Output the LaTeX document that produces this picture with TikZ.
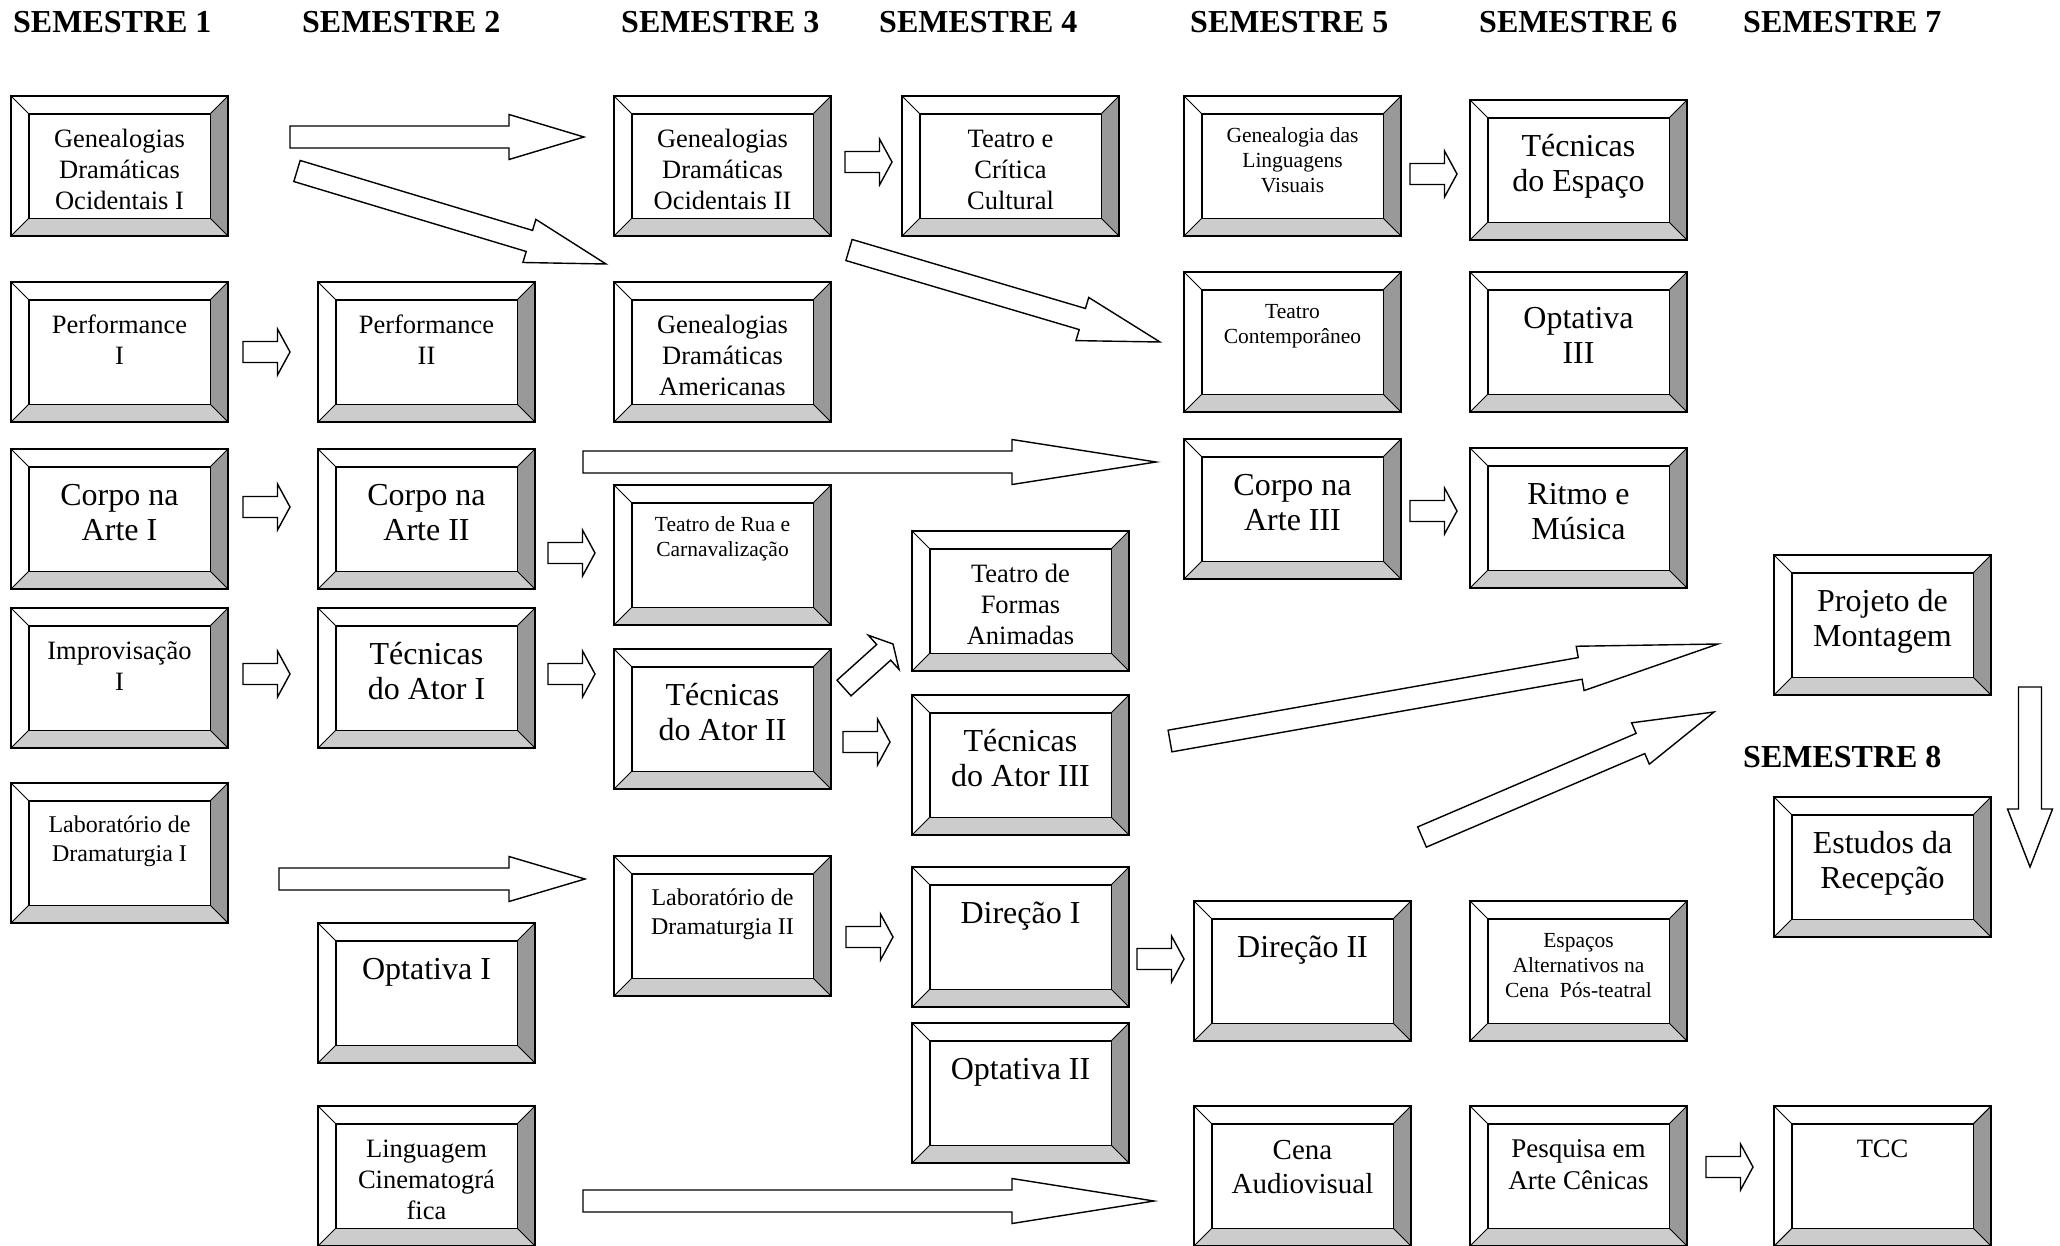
\documentclass[tikz,border=0pt]{standalone}
\usepackage{fontspec}
\setmainfont{Liberation Serif}
\usetikzlibrary{calc,positioning}
\definecolor{BevelDark}{HTML}{999999}
\definecolor{BevelLight}{HTML}{CCCCCC}
\newlength\bev
\setlength\bev{17.7pt}

\tikzset{
  bevel/.style={draw, fill=white, line width=2.2pt, anchor=north west,
    minimum width=217pt, minimum height=140pt, inner sep=0pt, outer sep=0pt,
    path picture={
      \coordinate (pNW) at (path picture bounding box.north west);
      \coordinate (pNE) at (path picture bounding box.north east);
      \coordinate (pSW) at (path picture bounding box.south west);
      \coordinate (pSE) at (path picture bounding box.south east);
      \fill[BevelDark] (pNE) -- (pSE) -- ([shift={(-\bev,\bev)}]pSE)
        -- ([shift={(-\bev,-\bev)}]pNE) -- cycle;
      \fill[BevelLight] (pSW) -- (pSE) -- ([shift={(-\bev,\bev)}]pSE)
        -- ([shift={(\bev,\bev)}]pSW) -- cycle;
      \draw[line width=1pt] (pNW) -- ++(\bev,-\bev) (pNE) -- ++(-\bev,-\bev)
        (pSE) -- ++(-\bev,\bev) (pSW) -- ++(\bev,\bev);
      \draw[line width=1.6pt] ([shift={(\bev,-\bev)}]pNW)
        rectangle ([shift={(-\bev,\bev)}]pSE);
    }},
  coursetext/.style={align=center, inner sep=0pt},
  fS/.style={font=\fontsize{21.5}{25}\selectfont},
  fL/.style={font=\fontsize{24}{29}\selectfont},
  fM/.style={font=\fontsize{26.5}{31}\selectfont},
  fQ/.style={font=\fontsize{27}{31.5}\selectfont},
  fC/.style={font=\fontsize{29}{34}\selectfont},
  fB/.style={font=\fontsize{32}{35.5}\selectfont},
  sem/.style={anchor=west, inner sep=0pt, font=\bfseries\fontsize{32}{36}\selectfont},
  fat/.style={draw, fill=white, line width=1.4pt, line join=miter},
}

% box with bevel frame, text hung from the top
\newcommand\course[5]{%
  \node[bevel] (#1) at (#2,#3) {};
  \node[coursetext,#4,below=27.5pt of #1.north] (#1-t) {\rule{0pt}{.89em}#5};}

% hollow block arrow: tail, tip, half shaft, half head, head length
\newcommand\fatarrow[5]{%
  \path ($(#2)!#5!(#1)$) coordinate (hb);
  \draw[fat] ($(#1)!#3!90:(#2)$) -- ($(hb)!#3!90:(#2)$) -- ($(hb)!#4!90:(#2)$)
    -- (#2) -- ($(hb)!#4!-90:(#2)$) -- ($(hb)!#3!-90:(#2)$)
    -- ($(#1)!#3!-90:(#2)$) -- cycle;}

\begin{document}
\begin{tikzpicture}[x=1pt,y=-1pt]
\clip (0,0) rectangle (2060,1245);

% Semester headings.
\node[sem] (s1) at (13,22.5) {SEMESTRE 1};
\node[sem] (s2) at (302,22.5) {SEMESTRE 2};
\node[sem] (s3) at (621,22.5) {SEMESTRE 3};
\node[sem] (s4) at (879,22.5) {SEMESTRE 4};
\node[sem] (s5) at (1190,22.5) {SEMESTRE 5};
\node[sem] (s6) at (1479,22.5) {SEMESTRE 6};
\node[sem] (s7) at (1743,22.5) {SEMESTRE 7};
\node[sem] (s8) at (1743,757) {SEMESTRE 8};

% Semester 1 and 2.
\course{gdoI}{11}{96}{fM}{Genealogias\\Dramáticas\\Ocidentais I}
\course{perfI}{11}{282}{fM}{Performance\\I}
\course{corpoI}{11}{449}{fB}{Corpo na\\Arte I}
\course{improv}{11}{608}{fM}{Improvisação\\I}
\course{labI}{11}{783}{fL}{Laboratório de\\Dramaturgia I}
\course{perfII}{318}{282}{fM}{Performance\\II}
\course{corpoII}{318}{449}{fB}{Corpo na\\Arte II}
\course{atorI}{318}{608}{fB}{Técnicas\\do Ator I}
\course{optI}{318}{923}{fB}{Optativa I}
\course{cine}{318}{1106}{fM}{Linguagem\\Cinematográ\\fica}

% Semester 3 and 4.
\course{gdoII}{614}{96}{fM}{Genealogias\\Dramáticas\\Ocidentais II}
\course{gda}{614}{282}{fM}{Genealogias\\Dramáticas\\Americanas}
\course{rua}{614}{485}{fS}{Teatro de Rua e\\Carnavalização}
\course{atorII}{614}{649}{fB}{Técnicas\\do Ator II}
\course{labII}{614}{856}{fL}{Laboratório de\\Dramaturgia II}
\course{critica}{902}{96}{fM}{Teatro e\\Crítica\\Cultural}
\course{formas}{912}{531}{fM}{Teatro de\\Formas\\Animadas}
\course{atorIII}{912}{695}{fB}{Técnicas\\do Ator III}
\course{dirI}{912}{867}{fB}{Direção I}
\course{optII}{912}{1023}{fB}{Optativa II}

% Semester 5 and 6.
\course{visuais}{1184}{96}{fS}{Genealogia das\\Linguagens\\Visuais}
\course{contemp}{1184}{272}{fS}{Teatro\\Contemporâneo}
\course{corpoIII}{1184}{439}{fB}{Corpo na\\Arte III}
\course{dirII}{1194}{901}{fB}{Direção II}
\course{cena}{1194}{1106}{fC}{Cena\\Audiovisual}
\course{espaco}{1470}{100}{fB}{Técnicas\\do Espaço}
\course{optIII}{1470}{272}{fB}{Optativa\\III}
\course{ritmo}{1470}{448}{fB}{Ritmo e\\Música}
\course{alt}{1470}{901}{fS}{Espaços\\Alternativos na\\Cena\ \ Pós-teatral}
\course{pesq}{1470}{1106}{fQ}{Pesquisa em\\Arte Cênicas}

% Semester 7 and 8.
\course{montagem}{1774}{555}{fB}{Projeto de\\Montagem}
\course{recepcao}{1774}{797}{fB}{Estudos da\\Recepção}
\course{tcc}{1774}{1106}{fM}{TCC}

% Short arrows between neighbours.
\foreach \n/\x/\y in {a/845/162, b/243/352, c/243/507, d/243/674, e/548/553,
    f/548/674, g/843/742, i/1410/174, j/1410/511, k/846/937, l/1137/959, m/1706/1167} {
  \coordinate (sh\n-s) at (\x,\y);
  \coordinate (sh\n-e) at (\x+47,\y);
  \fatarrow{sh\n-s}{sh\n-e}{10.5pt}{23pt}{12.5pt}
}
\coordinate (form-s) at (844,688);
\coordinate (form-e) at (893,644);
\fatarrow{form-s}{form-e}{10.5pt}{23pt}{12.5pt}

% Long arrows across semesters.
\coordinate (gen-s) at (290,137);    \coordinate (gen-e) at (584,137);
\coordinate (gam-s) at (297,171);    \coordinate (gam-e) at (606,264);
\coordinate (cont-s) at (849,250);   \coordinate (cont-e) at (1160,342);
\coordinate (corpo-s) at (583,462);  \coordinate (corpo-e) at (1156,462);
\coordinate (lab-s) at (279,879);    \coordinate (lab-e) at (585,879);
\coordinate (cena-s) at (583,1201);  \coordinate (cena-e) at (1154,1201);
\coordinate (proj1-s) at (1170,741); \coordinate (proj1-e) at (1718,644);
\coordinate (proj2-s) at (1422,837); \coordinate (proj2-e) at (1714,712);
\coordinate (rec-s) at (2030,687);   \coordinate (rec-e) at (2030,867);
\fatarrow{gen-s}{gen-e}{11pt}{22.5pt}{75pt}
\fatarrow{gam-s}{gam-e}{11pt}{22.5pt}{80pt}
\fatarrow{cont-s}{cont-e}{11pt}{22.5pt}{81pt}
\fatarrow{corpo-s}{corpo-e}{11pt}{22.5pt}{144pt}
\fatarrow{lab-s}{lab-e}{11pt}{22.5pt}{76pt}
\fatarrow{cena-s}{cena-e}{11pt}{22.5pt}{142pt}
\fatarrow{proj1-s}{proj1-e}{11pt}{22.5pt}{140pt}
\fatarrow{proj2-s}{proj2-e}{11pt}{22.5pt}{80pt}
\fatarrow{rec-s}{rec-e}{11.5pt}{22.5pt}{58pt}
\end{tikzpicture}
\end{document}
